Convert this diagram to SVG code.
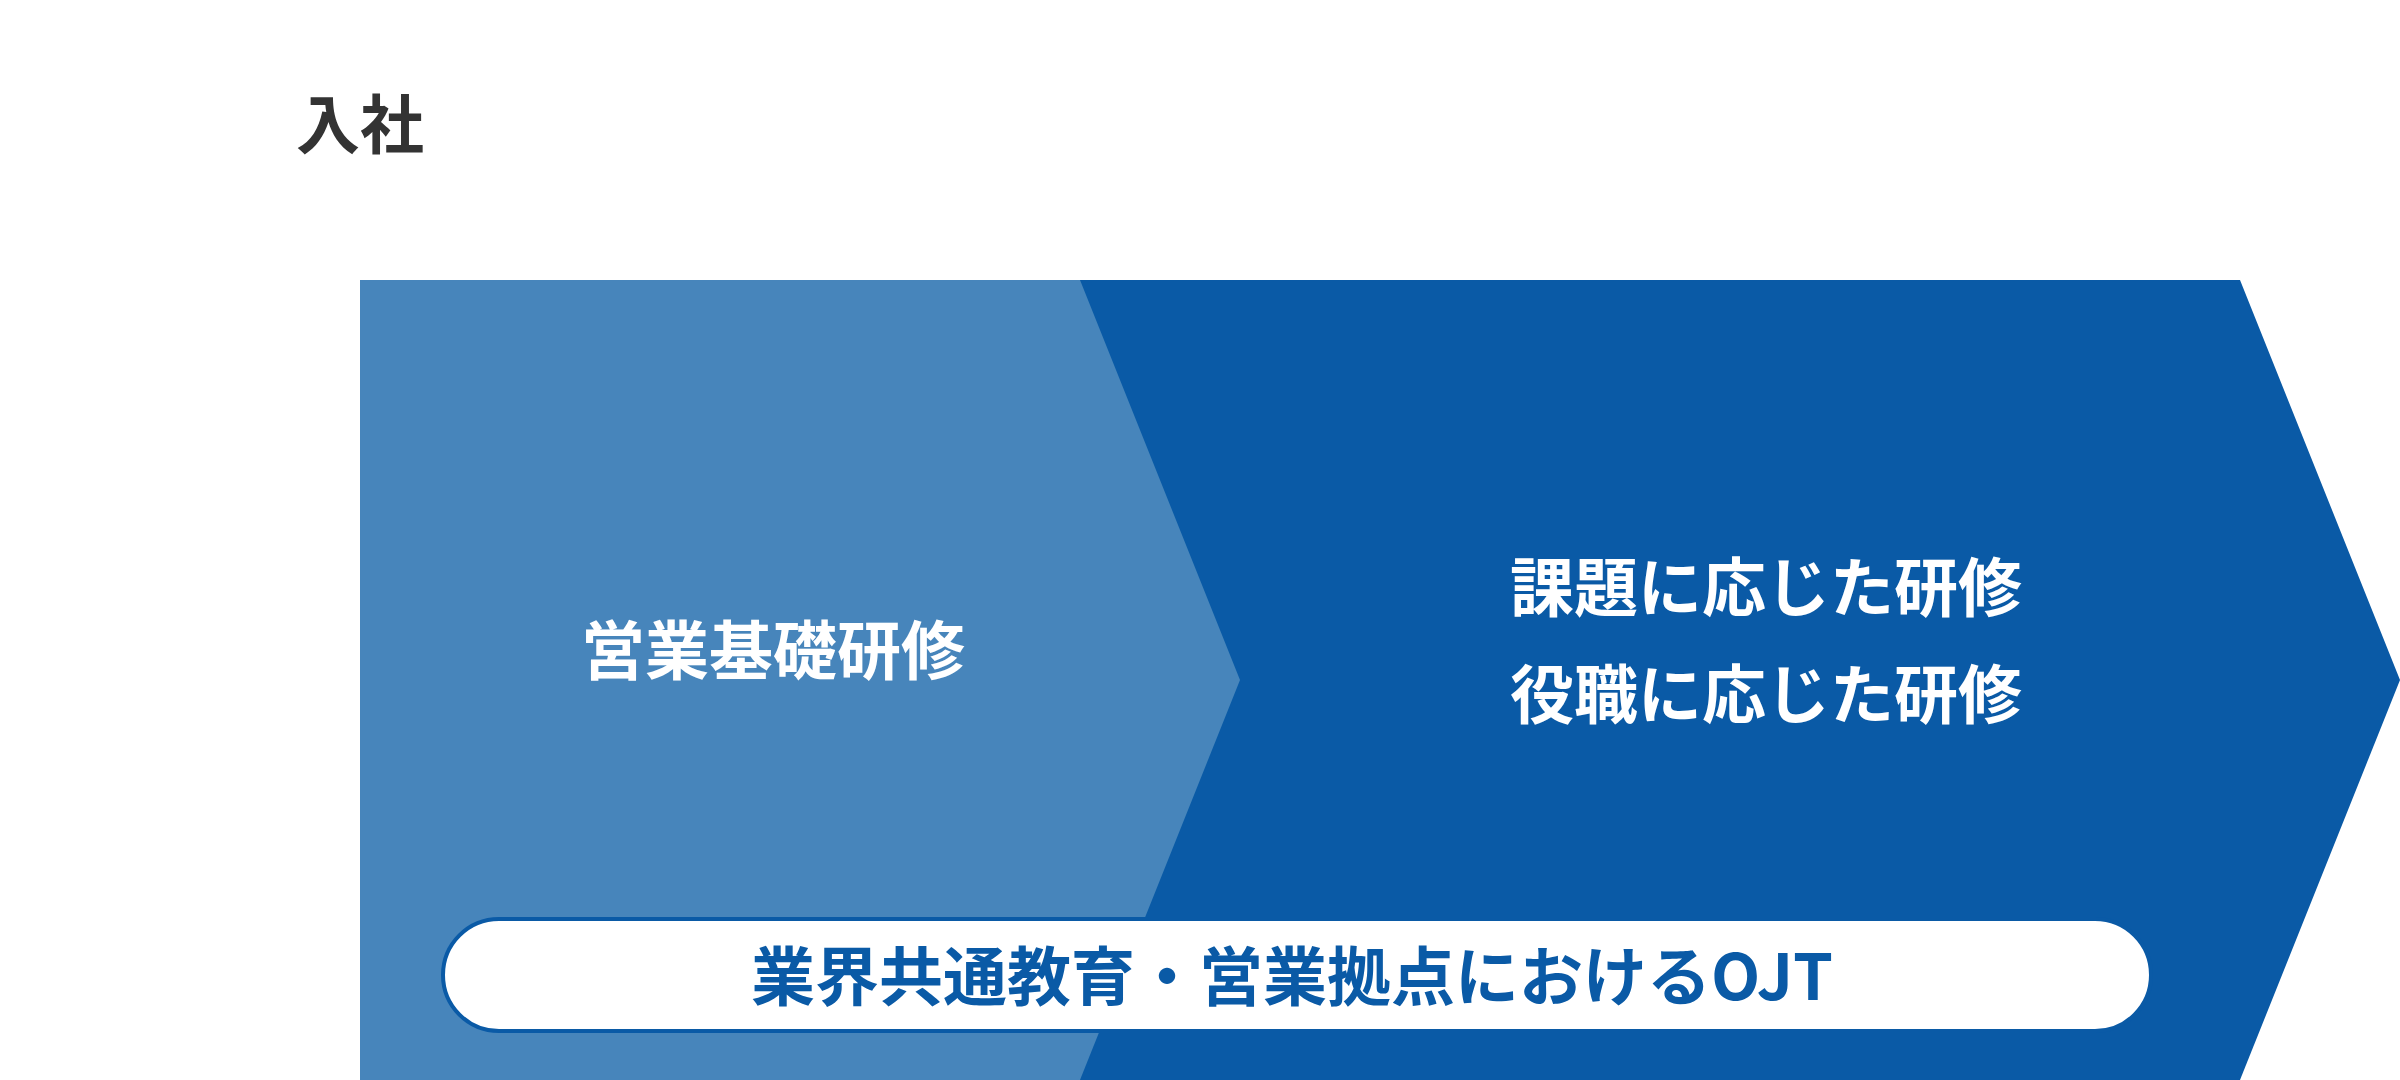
<svg xmlns="http://www.w3.org/2000/svg" width="2400" height="1080" viewBox="0 0 2400 1080">
<style>
.t{font-family:"Noto Sans CJK JP","Noto Sans CJK SC",sans-serif;font-weight:700;font-size:64px;text-anchor:middle}
.w{fill:#ffffff}
</style>
<rect x="0" y="0" width="2400" height="1080" fill="#ffffff"/>
<g id="label-nyusha">
<text class="t" x="360" y="148" fill="#333333">入社</text>
</g>
<g id="stage2">
<polygon points="1079,280 2240,280 2400,680 2240,1080 1079,1080" fill="#0a5aa6"/>
<text class="t w" x="1766" y="611">課題に応じた研修</text>
<text class="t w" x="1766" y="718">役職に応じた研修</text>
</g>
<g id="stage1">
<polygon points="360,280 1080,280 1240,680 1080,1080 360,1080" fill="#4785bb"/>
<text class="t w" x="773" y="674">営業基礎研修</text>
</g>
<g id="ojt">
<rect x="443" y="919" width="1708" height="112" rx="56" ry="56" fill="#ffffff" stroke="#0a5aa6" stroke-width="4"/>
<text class="t" x="1292" y="1000" fill="#0a5aa6">業界共通教育・営業拠点におけるOJT</text>
</g>
<g id="connectors"></g>
</svg>
